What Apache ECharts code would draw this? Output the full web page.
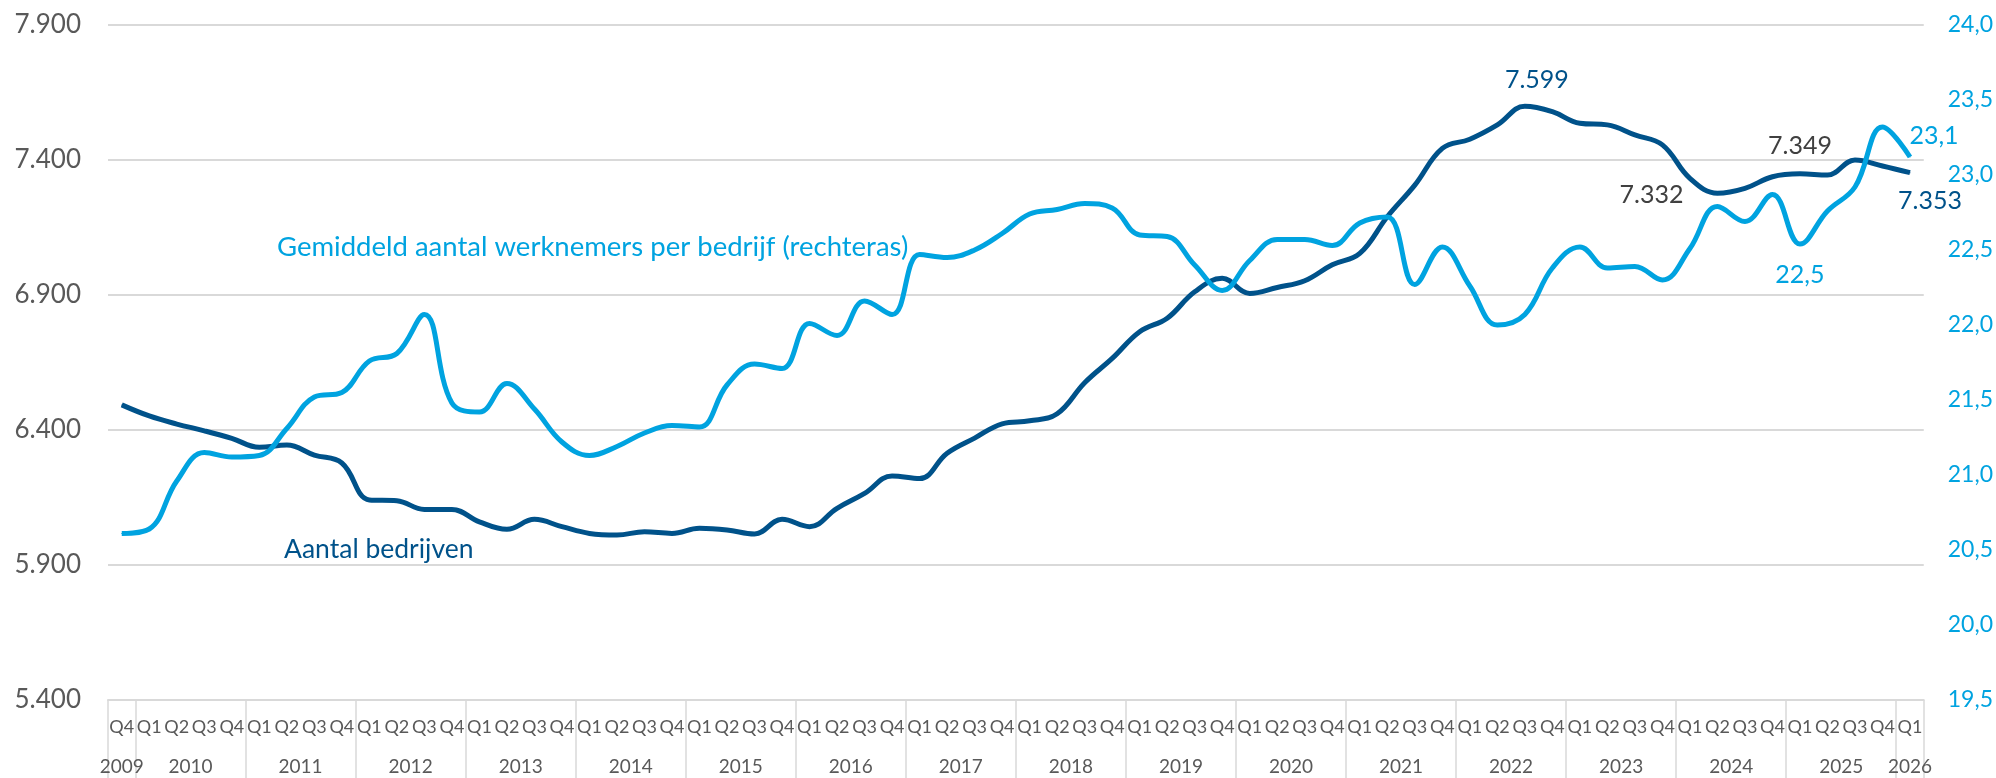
<!DOCTYPE html>
<html>
<head>
<meta charset="utf-8">
<title>Aantal bedrijven en gemiddeld aantal werknemers per bedrijf</title>
<script src="https://cdn.jsdelivr.net/npm/echarts@6/dist/echarts.min.js"></script>
<style>
  html, body { margin: 0; padding: 0; background: #fff; }
  #chart { width: 1996px; height: 778px; }
</style>
</head>
<body>
<div id="chart"></div>
<script>
// x-as: 2009 Q4 t/m 2026 Q1
var years = ['2009', '2010', '2011', '2012', '2013', '2014', '2015', '2016', '2017',
             '2018', '2019', '2020', '2021', '2022', '2023', '2024', '2025', '2026'];
var firstQuarter = 4;
var lastQuarter = 1;

// aantal bedrijven (linkeras)
var bedrijven = [
  6493, 6452, 6422, 6397, 6369, 6336, 6344, 6307, 6278, 6141,
  6138, 6106, 6106, 6060, 6032, 6069, 6042, 6017, 6011, 6023,
  6017, 6036, 6030, 6015, 6069, 6042, 6110, 6165, 6230, 6220,
  6314, 6370, 6423, 6434, 6460, 6575, 6665, 6764, 6814, 6912,
  6962, 6906, 6928, 6953, 7012, 7054, 7190, 7307, 7443, 7477,
  7530, 7599, 7579, 7536, 7530, 7493, 7456, 7332, 7277, 7295,
  7338, 7349, 7344, 7400, 7378, 7353
];

// gemiddeld aantal werknemers per bedrijf (rechteras)
var werknemers = [
  20.61, 20.64, 20.96, 21.15, 21.12, 21.13, 21.31, 21.52, 21.55, 21.76,
  21.81, 22.07, 21.48, 21.42, 21.61, 21.44, 21.22, 21.13, 21.19, 21.28,
  21.33, 21.32, 21.60, 21.74, 21.71, 22.01, 21.93, 22.16, 22.07, 22.47,
  22.45, 22.50, 22.61, 22.74, 22.77, 22.81, 22.78, 22.60, 22.59, 22.40,
  22.23, 22.43, 22.57, 22.57, 22.53, 22.68, 22.72, 22.27, 22.52, 22.26,
  22.00, 22.07, 22.38, 22.52, 22.38, 22.39, 22.30, 22.51, 22.79, 22.69,
  22.87, 22.54, 22.76, 22.92, 23.32, 23.12
];

// linkeras loopt van 5.400 tot 7.900
var leftMin = 5400, leftMax = 7900, leftStep = 500;
var rightMin = 19.5, rightMax = 24, rightStep = 0.5;

var DARK = '#00528A';
var LIGHT = '#00A3E0';
var GREY = '#595959';
var GRID = '#D9D9D9';
var FONT = 'Lato';

var categories = [];
years.forEach(function (y, k) {
  var from = k === 0 ? firstQuarter : 1;
  var to = k === years.length - 1 ? lastQuarter : 4;
  for (var q = from; q <= to; q++) categories.push(y + ' Q' + q);
});

function fmtInt(v) {
  return String(Math.round(v)).replace(/\B(?=(\d{3})+(?!\d))/g, '.');
}
function fmtDec(v) {
  return v.toFixed(1).replace('.', ',');
}

// welke punten een label krijgen en waar
var darkLabels = {
  51: { position: 'top', distance: 13, offset: [12, 0], color: DARK },
  57: { position: 'left', distance: 6, offset: [0, 17], color: '#404040' },
  61: { position: 'top', distance: 15, color: '#404040' },
  65: { position: 'bottom', distance: 15, offset: [20, 0], color: DARK }
};
var lightLabels = {
  61: { position: 'bottom', distance: 18, color: LIGHT },
  65: { position: 'top', distance: 8, offset: [24, 0], color: LIGHT }
};

function withLabels(values, labels, shift, fmt) {
  return values.map(function (v, i) {
    var item = { value: v - shift };
    var l = labels[i];
    if (l) {
      item.label = {
        show: true,
        position: l.position,
        distance: l.distance,
        offset: l.offset || [0, 0],
        color: l.color,
        fontFamily: FONT,
        fontSize: 25,
        formatter: fmt(v)
      };
    }
    return item;
  });
}

var chart = echarts.init(document.getElementById('chart'));
chart.setOption({
  animation: false,
  backgroundColor: '#fff',
  grid: { left: 108, right: 70, top: 25, bottom: 78, containLabel: false },
  xAxis: [
    {
      type: 'category',
      data: categories,
      boundaryGap: true,
      axisLine: { show: true, lineStyle: { color: GRID, width: 2 } },
      axisTick: {
        show: true,
        length: 78,
        lineStyle: { color: GRID, width: 1.5 },
        interval: function (index, value) {
          return index === 0 || /Q1$/.test(value);
        }
      },
      axisLabel: {
        interval: 0,
        margin: 18,
        color: GREY,
        fontFamily: FONT,
        fontSize: 18,
        formatter: function (value) { return value.split(' ')[1]; }
      },
      splitLine: { show: false }
    },
    {
      type: 'category',
      data: categories,
      position: 'bottom',
      boundaryGap: true,
      axisLine: { show: false },
      axisTick: { show: false },
      axisLabel: {
        margin: 57,
        color: GREY,
        fontFamily: FONT,
        fontSize: 19,
        interval: function (index, value) {
          var y = value.split(' ')[0];
          if (y === years[0] || y === years[years.length - 1]) return true;
          return /Q2$/.test(value);
        },
        formatter: function (value) {
          var y = value.split(' ')[0];
          if (y === years[0] || y === years[years.length - 1]) return '{n|' + y + '}';
          return '{m|' + y + '}';
        },
        rich: {
          n: { color: GREY, fontFamily: FONT, fontSize: 19 },
          m: { color: GREY, fontFamily: FONT, fontSize: 19, padding: [0, 0, 0, 27.5] }
        }
      },
      splitLine: { show: false }
    }
  ],
  yAxis: [
    {
      type: 'value',
      position: 'left',
      min: 0,
      max: leftMax - leftMin,
      interval: leftStep,
      axisLine: { show: false },
      axisTick: { show: false },
      axisLabel: {
        margin: 27,
        color: GREY,
        fontFamily: FONT,
        fontSize: 26,
        formatter: function (v) { return fmtInt(v + leftMin); }
      },
      splitLine: { show: true, lineStyle: { color: GRID, width: 2 } }
    },
    {
      type: 'value',
      position: 'right',
      min: rightMin,
      max: rightMax,
      interval: rightStep,
      axisLine: { show: false },
      axisTick: { show: false },
      axisLabel: {
        margin: 24,
        color: LIGHT,
        fontFamily: FONT,
        fontSize: 23,
        formatter: function (v) { return fmtDec(v); }
      },
      splitLine: { show: false }
    }
  ],
  series: [
    {
      name: 'Aantal bedrijven',
      type: 'line',
      xAxisIndex: 0,
      yAxisIndex: 0,
      data: withLabels(bedrijven, darkLabels, leftMin, fmtInt),
      smooth: 0.4,
      symbol: 'circle',
      symbolSize: 1,
      showAllSymbol: true,
      itemStyle: { color: DARK },
      lineStyle: { color: DARK, width: 5 },
      z: 3
    },
    {
      name: 'Gemiddeld aantal werknemers per bedrijf',
      type: 'line',
      xAxisIndex: 0,
      yAxisIndex: 1,
      data: withLabels(werknemers, lightLabels, 0, fmtDec),
      smooth: 0.4,
      symbol: 'circle',
      symbolSize: 1,
      showAllSymbol: true,
      itemStyle: { color: LIGHT },
      lineStyle: { color: LIGHT, width: 5 },
      z: 4
    }
  ],
  graphic: [
    {
      type: 'text',
      left: 277,
      top: 233,
      style: {
        text: 'Gemiddeld aantal werknemers per bedrijf (rechteras)',
        fill: LIGHT,
        font: '27.5px ' + FONT
      }
    },
    {
      type: 'text',
      left: 284,
      top: 536,
      style: {
        text: 'Aantal bedrijven',
        fill: DARK,
        font: '26.5px ' + FONT
      }
    }
  ]
});
</script>
</body>
</html>
